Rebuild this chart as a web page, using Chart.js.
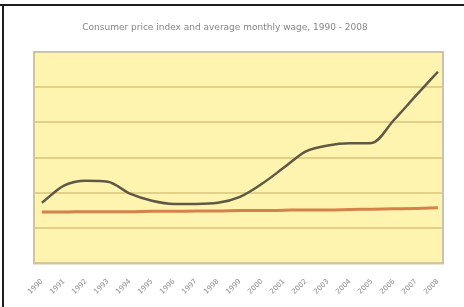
<!DOCTYPE html>
<html>
<head>
<meta charset="utf-8">
<script src="https://cdn.jsdelivr.net/npm/chart.js@4.4.0/dist/chart.umd.min.js"></script>
<style>
html,body{margin:0;padding:0;background:#fff;}
#wrap{position:relative;width:464px;height:307px;}
</style>
</head>
<body>
<div id="wrap"><canvas id="c" width="464" height="307"></canvas></div>
<script>
const titleText = "Consumer price index and average monthly wage, 1990 - 2008";
const categories = ["1990","1991","1992","1993","1994","1995","1996","1997","1998","1999","2000","2001","2002","2003","2004","2005","2006","2007","2008"];
const seriesDark = [1.72,2.21,2.35,2.32,1.98,1.78,1.69,1.69,1.72,1.89,2.26,2.72,3.18,3.35,3.41,3.42,4.07,4.76,5.44];
const seriesOrange = [1.46,1.46,1.47,1.47,1.47,1.48,1.48,1.49,1.49,1.50,1.50,1.51,1.52,1.52,1.53,1.54,1.55,1.56,1.58];
const yTicks = [0,1,2,3,4,5,6];

const framePlugin = {
  id: 'frame',
  beforeDraw(chart) {
    const ctx = chart.ctx, a = chart.chartArea;
    ctx.save();
    ctx.fillStyle = '#ffffff';
    ctx.fillRect(0, 0, chart.width, chart.height);
    ctx.fillStyle = '#fff3b0';
    ctx.fillRect(a.left, a.top, a.right - a.left, a.bottom - a.top);
    ctx.restore();
  },
  afterDraw(chart) {
    const ctx = chart.ctx, a = chart.chartArea;
    ctx.save();
    ctx.strokeStyle = '#cdc4a4';
    ctx.lineWidth = 2;
    ctx.strokeRect(a.left, a.top, a.right - a.left, a.bottom - a.top);
    ctx.strokeStyle = '#1e1e1e';
    ctx.lineWidth = 2;
    ctx.beginPath();
    ctx.moveTo(0, 5); ctx.lineTo(chart.width, 5);
    ctx.moveTo(3, 5); ctx.lineTo(3, chart.height);
    ctx.stroke();
    ctx.fillStyle = '#858585';
    ctx.font = '9px "DejaVu Sans"';
    ctx.textAlign = 'center';
    ctx.textBaseline = 'middle';
    ctx.fillText(titleText, 225, 28);
    ctx.restore();
  }
};

const toXY = arr => arr.map((v, i) => ({x: i, y: v}));

new Chart(document.getElementById('c'), {
  type: 'line',
  data: {
    datasets: [
      {data: toXY(seriesOrange), borderColor: '#d5814a', borderWidth: 3, pointRadius: 0, cubicInterpolationMode: 'monotone', fill: false},
      {data: toXY(seriesDark), borderColor: '#5e5944', borderWidth: 2.5, pointRadius: 0, cubicInterpolationMode: 'monotone', fill: false}
    ]
  },
  options: {
    responsive: false,
    animation: false,
    layout: {padding: {left: 34, right: 21, top: 52, bottom: 5}},
    plugins: {
      legend: {display: false},
      tooltip: {enabled: false},
      title: {display: false}
    },
    scales: {
      x: {
        type: 'linear',
        min: -0.36,
        max: 18.23,
        grid: {display: false},
        border: {display: false},
        ticks: {
          stepSize: 1,
          includeBounds: false,
          autoSkip: false,
          maxRotation: 45,
          minRotation: 45,
          color: '#8a8a8a',
          padding: 6,
          font: {family: 'DejaVu Sans', size: 7},
          callback: v => Number.isInteger(v) ? categories[v] : ''
        }
      },
      y: {
        min: 0,
        max: 6,
        afterBuildTicks: s => { s.ticks = yTicks.map(v => ({value: v})); },
        grid: {color: '#e2cf88', lineWidth: 2, drawTicks: false},
        border: {display: false},
        ticks: {display: false}
      }
    }
  },
  plugins: [framePlugin]
});
</script>
</body>
</html>
